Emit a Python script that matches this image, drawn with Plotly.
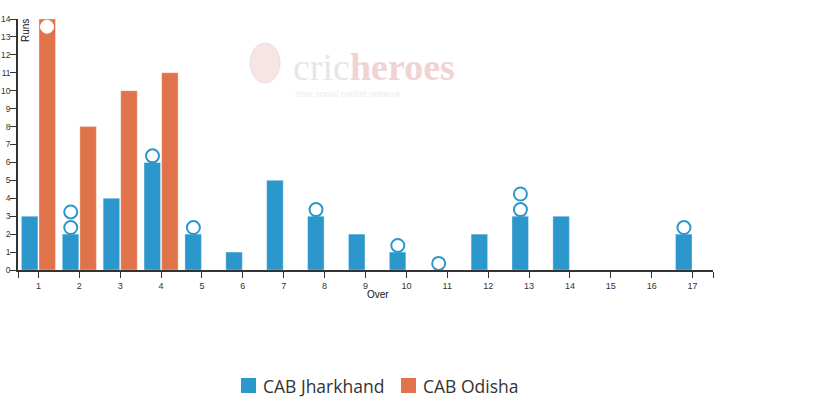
import plotly.graph_objects as go

# ---- data ----
overs = list(range(1, 18))
jharkhand_runs = [3, 2, 4, 6, 2, 1, 5, 3, 2, 1, 0, 2, 3, 3, 0, 0, 2]
odisha_overs = [1, 2, 3, 4]
odisha_runs = [14, 8, 10, 11]
# wickets per over
jharkhand_wickets = {2: 2, 4: 1, 5: 1, 8: 1, 10: 1, 11: 1, 13: 2, 17: 1}
odisha_wickets = {1: 1}
team_names = ["CAB Jharkhand", "CAB Odisha"]
team_colors = ["#2b97cc", "#e07349"]
y_max = 14

# layout constants
L, R, T, B = 18, 107, 19, 142
W, H = 820, 412
plot_h = H - T - B
plot_w = W - L - R
px_per_unit = plot_h / y_max
first_off = 6.6 / px_per_unit
step = 15.6 / px_per_unit
group_half = 0.21  # bar offset from category centre (grouped bars)

fig = go.Figure()
fig.add_trace(go.Bar(x=overs, y=jharkhand_runs, name=team_names[0],
                     marker=dict(color=team_colors[0], line=dict(color="rgba(255,255,255,0.35)", width=1))))
fig.add_trace(go.Bar(x=odisha_overs, y=odisha_runs, name=team_names[1],
                     marker=dict(color=team_colors[1], line=dict(color="rgba(255,255,255,0.35)", width=1))))

def wicket_points(wk, xs, ys, shift):
    px, py = [], []
    lookup = dict(zip(xs, ys))
    for ov, n in wk.items():
        base = lookup.get(ov, 0)
        for k in range(n):
            y = base + first_off + k * step
            y = min(y, y_max - 0.43)
            px.append(ov + shift)
            py.append(y)
    return px, py

wx, wy = wicket_points(jharkhand_wickets, overs, jharkhand_runs, -group_half)
fig.add_trace(go.Scatter(x=wx, y=wy, mode="markers", showlegend=False, hoverinfo="skip",
                         marker=dict(symbol="circle", size=13, color="white",
                                     line=dict(color=team_colors[0], width=2))))
ox, oy = wicket_points(odisha_wickets, odisha_overs, odisha_runs, group_half)
fig.add_trace(go.Scatter(x=ox, y=oy, mode="markers", showlegend=False, hoverinfo="skip",
                         marker=dict(symbol="circle", size=13, color="white",
                                     line=dict(color="white", width=1))))

tick_vals = [0.5] + overs + [17.5]
tick_text = [""] + [str(o) for o in overs] + [""]

fig.update_layout(
    width=W, height=H,
    margin=dict(l=L, r=R, t=T, b=B, pad=0, autoexpand=False),
    paper_bgcolor="white", plot_bgcolor="white",
    barmode="group", bargap=0.14, bargroupgap=0.06,
    showlegend=False,
    font=dict(family="Liberation Sans, Arial", size=9, color="#333"),
    xaxis=dict(range=[0.5, 17.5], tickvals=tick_vals, ticktext=tick_text,
               ticks="outside", ticklen=6, tickwidth=1, tickcolor="#333",
               showline=True, linecolor="#333", linewidth=1.5, automargin=False,
               showgrid=False, zeroline=False, fixedrange=True,
               tickfont=dict(size=9, color="#333")),
    yaxis=dict(range=[0, y_max], tickvals=list(range(0, y_max + 1)),
               ticks="outside", ticklen=6, tickwidth=1, tickcolor="#333",
               showline=True, linecolor="#333", linewidth=1.5, automargin=False,
               ticklabelstandoff=-2,
               showgrid=False, zeroline=False, fixedrange=True,
               tickfont=dict(size=8.5, color="#333")),
)

def px2x(p):
    return (p - L) / plot_w
def py2y(p):
    return (H - B - p) / plot_h

# axis titles
fig.add_annotation(text="Over", xref="paper", yref="paper",
                   x=px2x(378), y=py2y(294), xanchor="center", yanchor="middle",
                   showarrow=False, font=dict(size=10, color="#111", family="Liberation Sans, Arial"))
fig.add_annotation(text="Runs", xref="paper", yref="paper", textangle=-90,
                   x=px2x(26), y=py2y(31), xanchor="center", yanchor="middle",
                   showarrow=False, font=dict(size=10, color="#111", family="Liberation Sans, Arial"))

# watermark
fig.add_shape(type="circle", xref="paper", yref="paper", layer="below",
              x0=px2x(250), x1=px2x(280), y0=py2y(83), y1=py2y(43),
              fillcolor="#f7e4e4", line=dict(color="#f2dede", width=1))
fig.add_annotation(text="cric<b><span style='color:#f1d3d3'>heroes</span></b>",
                   xref="paper", yref="paper", x=px2x(291), y=py2y(67),
                   xanchor="left", yanchor="middle", showarrow=False,
                   font=dict(family="Liberation Serif", size=38, color="#e6e6e6"))
fig.add_annotation(text="<i>Your social cricket network</i>", xref="paper", yref="paper",
                   x=px2x(292), y=py2y(94), xanchor="left", yanchor="middle", showarrow=False,
                   font=dict(family="Liberation Sans", size=9, color="#ececec"))

# legend (drawn manually to match square size/spacing)
leg_items = [(241, 261), (401, 421)]
for (sq_x, tx_x), name, col in zip(leg_items, team_names, team_colors):
    fig.add_shape(type="rect", xref="paper", yref="paper",
                  x0=px2x(sq_x), x1=px2x(sq_x + 15), y0=py2y(393), y1=py2y(378),
                  fillcolor=col, line=dict(width=0))
    fig.add_annotation(text=name, xref="paper", yref="paper", x=px2x(tx_x), y=py2y(385.5),
                       xanchor="left", yanchor="middle", showarrow=False,
                       font=dict(family="Open Sans", size=17.5, color="#333"))

fig.write_html("out.html")
